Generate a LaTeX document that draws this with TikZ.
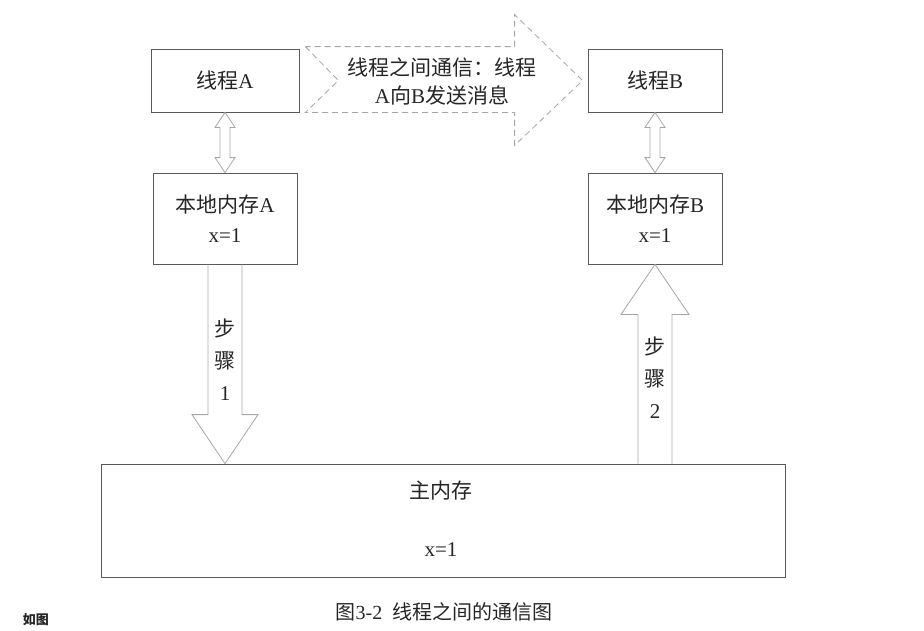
\documentclass[tikz,border=0pt]{standalone}
\usepackage{fontspec}
\setmainfont{Liberation Serif}
\newfontfamily\cjk{Noto Sans CJK SC}
\usetikzlibrary{calc}

\begin{document}
\begin{tikzpicture}[x=1pt,y=-1pt,font=\fontsize{21}{30}\selectfont,text=black!85,
  box/.style={draw=black!65,line width=.8pt,inner sep=0pt,align=center},
  blk/.style={draw=black!35,line width=.8pt,line join=miter},
  msgarrow/.style={draw=black!35,line width=.8pt,dash pattern=on 6pt off 4pt}]
  \useasboundingbox (0,0) rectangle (924,630);
  % threads and local memories
  \node[box,minimum width=148,minimum height=63] (thrA) at (225,80.5) {{\cjk 线程}A};
  \node[box,minimum width=134,minimum height=63] (thrB) at (655,80.5) {{\cjk 线程}B};
  \node[box,minimum width=144,minimum height=91] (memA) at (225,218.5)
    {{\cjk 本地内存}A\\x=1};
  \node[box,minimum width=134,minimum height=91] (memB) at (655,218.5)
    {{\cjk 本地内存}B\\x=1};
  \node[box,minimum width=684,minimum height=113] (main) at (443,520.5) {};
  \node (mainlbl) at (441,491) {\cjk 主内存};
  \node (mainx) at (441,550) {x=1};
  % thread <-> local memory
  \foreach \u/\v in {thrA/memA,thrB/memB}
    \draw[blk] (\u.south) -- +(10,15) -- +(5,15) -- ($(\v.north)+(5,-15)$)
      -- +(5,0) -- (\v.north) -- ($(\v.north)+(-10,-15)$) -- +(5,0)
      -- ($(\u.south)+(-5,15)$) -- +(-5,0) -- cycle;
  % communication
  \draw[msgarrow] ($(thrA.north east)+(6,-2)$) -- ($(thrA.east)+(39,0)$)
    -- ($(thrA.south east)+(6,0)$) -- ($(thrB.south west)+(-73,0)$) -- +(0,33)
    -- ($(thrB.west)+(-5,0)$) -- ($(thrB.north west)+(-73,-34)$) -- +(0,32) -- cycle;
  \node[align=center,font=\fontsize{21}{28}\selectfont] (msg) at (442,81)
    {{\cjk 线程之间通信：线程}\\A{\cjk 向}B{\cjk 发送消息}};
  % step 1
  \draw[blk] ($(memA.south)+(-17,0)$) -- ($(memA.south|-main.north)+(-17,-49)$)
    -- +(-16,0) -- (memA.south|-main.north) -- ($(memA.south|-main.north)+(33,-49)$)
    -- +(-16,0) -- ($(memA.south)+(17,0)$);
  \node[align=center,font=\fontsize{21}{32}\selectfont] (step1) at (225,360)
    {{\cjk 步}\\{\cjk 骤}\\1};
  % step 2
  \draw[blk] ($(memB.south|-main.north)+(-17,0)$) -- ($(memB.south)+(-17,50)$)
    -- +(-17,0) -- (memB.south) -- ($(memB.south)+(34,50)$) -- +(-17,0)
    -- ($(memB.south|-main.north)+(17,0)$);
  \node[align=center,font=\fontsize{21}{32}\selectfont] (step2) at (655,378)
    {{\cjk 步}\\{\cjk 骤}\\2};
  % caption
  \node[font=\fontsize{20}{22}\selectfont] (cap) at (444,612)
    {{\cjk 图}3-2\ \ {\cjk 线程之间的通信图}};
  \node[font=\fontsize{13}{15}\selectfont\cjk\bfseries] (ref) at (36,620) {如图};
\end{tikzpicture}
\end{document}
